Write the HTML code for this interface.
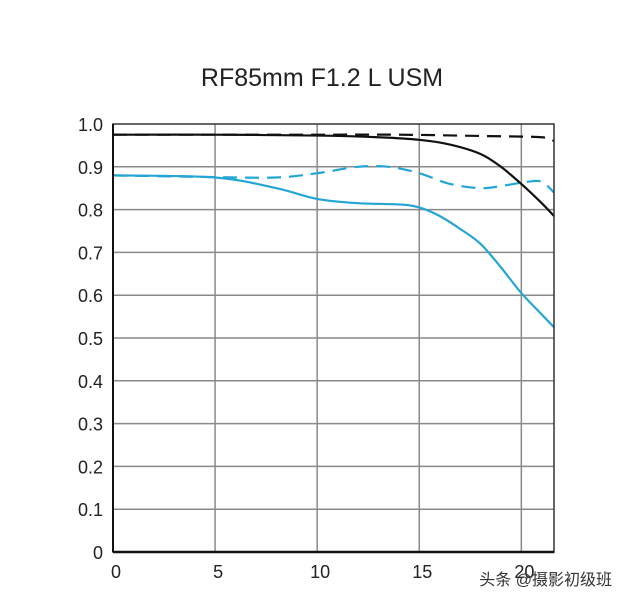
<!DOCTYPE html>
<html><head><meta charset="utf-8">
<style>
html,body{margin:0;padding:0;background:#fff;width:640px;height:599px;overflow:hidden}
svg text{font-family:"Liberation Sans","Noto Sans CJK SC",sans-serif;fill:#222}
</style></head>
<body>
<svg id="chart" width="640" height="599" viewBox="0 0 640 599" xmlns="http://www.w3.org/2000/svg">
<text x="322" y="86" text-anchor="middle" font-size="25">RF85mm F1.2 L USM</text>
<g id="grid"></g>
<g id="series"></g>
<g id="axes"></g>
<text x="612" y="585" text-anchor="end" font-size="16" style="fill:#333">头条 @摄影初级班</text>
</svg>
<script>
const xTicks = [0, 5, 10, 15, 20];
const yTicks = [0, 0.1, 0.2, 0.3, 0.4, 0.5, 0.6, 0.7, 0.8, 0.9, 1.0];
const yTickLabels = ["0","0.1","0.2","0.3","0.4","0.5","0.6","0.7","0.8","0.9","1.0"];
const blackSolidX = [0, 5, 10, 13, 15, 16.5, 18, 19, 20, 21, 21.6];
const blackSolidY = [0.975, 0.975, 0.973, 0.969, 0.963, 0.952, 0.93, 0.90, 0.86, 0.815, 0.785];
const blackDashX = [0, 5, 10, 14, 18, 21, 21.6];
const blackDashY = [0.975, 0.975, 0.975, 0.975, 0.972, 0.969, 0.96];
const blueSolidX = [0, 5, 8, 10, 12, 14, 15, 16, 17, 18, 19, 20, 21, 21.6];
const blueSolidY = [0.88, 0.875, 0.85, 0.825, 0.815, 0.812, 0.805, 0.785, 0.755, 0.72, 0.665, 0.605, 0.555, 0.525];
const blueDashX = [0, 5, 8, 10, 12, 13.5, 15, 16.5, 18, 19, 20.3, 21, 21.6];
const blueDashY = [0.88, 0.876, 0.875, 0.885, 0.9, 0.9, 0.885, 0.86, 0.85, 0.855, 0.865, 0.865, 0.84];

const X0 = 113, X1 = 554, XMAX = 21.6, Y0 = 552, Y1 = 124;
const sx = v => X0 + (v / XMAX) * (X1 - X0);
const sy = v => Y0 - v * (Y0 - Y1);
const NS = "http://www.w3.org/2000/svg";
function mk(tag, attrs, parent){const e=document.createElementNS(NS,tag);for(const k in attrs)e.setAttribute(k,attrs[k]);parent.appendChild(e);return e;}
const grid = document.getElementById('grid'), axes = document.getElementById('axes'), ser = document.getElementById('series');

yTicks.forEach((t,i)=>{
  if(t>0 && t<1){const l=mk('line',{x1:X0,x2:X1,y1:sy(t),y2:sy(t),stroke:'#8a8a8a','stroke-width':1.5},grid);
  
  }
  const tx=mk('text',{x:103,y:sy(t)+7,'text-anchor':'end','font-size':18},axes);
  tx.textContent=yTickLabels[i];
  
  
});
xTicks.forEach(t=>{
  if(t>0){const l=mk('line',{x1:sx(t),x2:sx(t),y1:Y1,y2:Y0,stroke:'#8a8a8a','stroke-width':1.5},grid);
  
  }
  const tx=mk('text',{x:sx(t)+3,y:578,'text-anchor':'middle','font-size':18},axes);
  tx.textContent=String(t);
  
  
});
const frame=mk('rect',{x:X0,y:Y1,width:X1-X0,height:Y0-Y1,fill:'none',stroke:'#333','stroke-width':1.5},axes);


const base=mk('line',{x1:X0,x2:X1,y1:Y0,y2:Y0,stroke:'#111','stroke-width':2.5},axes);


const leftAx=mk('line',{x1:X0,x2:X0,y1:Y1,y2:Y0,stroke:'#111','stroke-width':2},axes);



function smooth(xs, ys){
  const p = xs.map((x,i)=>[sx(x), sy(ys[i])]);
  let d = `M${p[0][0]},${p[0][1]}`;
  for(let i=0;i<p.length-1;i++){
    const p0=p[i-1]||p[i], p1=p[i], p2=p[i+1], p3=p[i+2]||p2;
    const c1=[p1[0]+(p2[0]-p0[0])/6, p1[1]+(p2[1]-p0[1])/6];
    const c2=[p2[0]-(p3[0]-p1[0])/6, p2[1]-(p3[1]-p1[1])/6];
    d += ` C${c1[0]},${c1[1]} ${c2[0]},${c2[1]} ${p2[0]},${p2[1]}`;
  }
  return d;
}
function line(xs, ys, color, dash, name){
  const e = mk('path',{d:smooth(xs,ys),fill:'none',stroke:color,'stroke-width':2.2},ser);
  if(dash) e.setAttribute('stroke-dasharray', dash);
  
  
}
line(blueDashX, blueDashY, '#23a6d5', '14,8', 'blue-dashed-series');
line(blueSolidX, blueSolidY, '#23a6d5', null, 'blue-solid-series');
line(blackDashX, blackDashY, '#111', '14,8', 'black-dashed-series');
line(blackSolidX, blackSolidY, '#111', null, 'black-solid-series');
</script>
</body></html>
